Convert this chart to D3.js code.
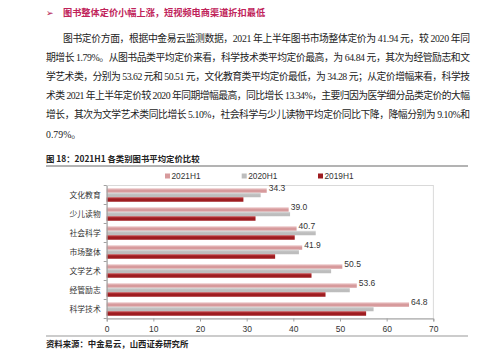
<!DOCTYPE html>
<html><head><meta charset="utf-8">
<script src="https://cdn.jsdelivr.net/npm/d3@7"></script>
<style>
html,body{margin:0;padding:0;background:#fff;}
svg{display:block;}
</style></head>
<body>
<svg id="c" width="500" height="356"></svg>
<script>
const heading = "图书整体定价小幅上涨，短视频电商渠道折扣最低";
const paragraph = [
  "图书定价方面，根据中金易云监测数据，2021 年上半年图书市场整体定价为 41.94 元，较 2020 年同",
  "期增长 1.79%。从图书品类平均定价来看，科学技术类平均定价最高，为 64.84 元，其次为经管励志和文",
  "学艺术类，分别为 53.62 元和 50.51 元，文化教育类平均定价最低，为 34.28 元；从定价增幅来看,科学技",
  "术类 2021 年上半年定价较 2020 年同期增幅最高，同比增长 13.34%，主要归因为医学细分品类定价的大幅",
  "增长，其次为文学艺术类同比增长 5.10%，社会科学与少儿读物平均定价同比下降，降幅分别为 9.10%和",
  "0.79%。"
];
paragraph[2] = "学艺术类，分别为 53.62 元和 50.51 元，文化教育类平均定价最低，为 34.28 元；从定价增幅来看，科学技";
const caption = "图 18：2021H1 各类别图书平均定价比较";
const source = "资料来源：中金易云，山西证券研究所";

const categories = ["文化教育","少儿读物","社会科学","市场整体","文学艺术","经管励志","科学技术"];
const seriesNames = ["2021H1","2020H1","2019H1"];
const values2021 = [34.3, 39.0, 40.7, 41.9, 50.5, 53.6, 64.8];
const values2020 = [33.0, 39.3, 44.8, 41.2, 48.1, 52.1, 57.2];
const values2019 = [29.3, 31.9, 40.3, 36.1, 43.9, 46.9, 55.6];
const xTicks = [0,10,20,30,40,50,60,70];

const svg = d3.select("#c");
const serif = "'Liberation Serif','Noto Sans CJK SC',serif";
const sans = "'Liberation Sans','Noto Sans CJK SC',sans-serif";

// heading
svg.append("text").attr("x",46).attr("y",16).attr("font-size",9).attr("fill","#b3124f")
  .attr("font-family","'DejaVu Sans',sans-serif").text("➢");
svg.append("text").attr("x",63).attr("y",16).attr("font-size",9.2).attr("font-weight","bold")
  .attr("fill","#c0235a").attr("font-family","'Noto Sans CJK SC',sans-serif").text(heading);

// paragraph
const lineY = [41.5, 60.8, 80, 99.2, 118.4, 137.6];
paragraph.forEach((t,i)=>{
  const x = i===0 ? 63 : 46;
  const tx = svg.append("text").attr("x",x).attr("y",lineY[i]).attr("font-size",9.8)
    .attr("fill","#222").attr("font-family",serif).text(t);
  if(i<5){ tx.attr("textLength",470-x).attr("lengthAdjust","spacing"); }
});

// caption
svg.append("text").attr("x",46).attr("y",162).attr("font-size",8.4).attr("font-weight","bold")
  .attr("fill","#222").attr("font-family","'Noto Sans CJK SC',sans-serif").text(caption);
svg.append("line").attr("x1",46).attr("x2",468).attr("y1",166).attr("y2",166)
  .attr("stroke","#9a9a9a").attr("stroke-width",1.5);

// chart
const colors = ["#d79a9c","#bdbdbd","#9e1c20"];
const light = ["#efcfd0","#dedede","#c0464a"];
const defs = svg.append("defs");
colors.forEach((c,i)=>{
  const g = defs.append("linearGradient").attr("id","g"+i).attr("x1",0).attr("x2",0).attr("y1",0).attr("y2",1);
  g.append("stop").attr("offset","0%").attr("stop-color",light[i]);
  g.append("stop").attr("offset","45%").attr("stop-color",c);
  g.append("stop").attr("offset","100%").attr("stop-color",c);
});

const x = d3.scaleLinear().domain([0,70]).range([106.7,433.3]);
const y = d3.scaleBand().domain(categories).range([185.5,318.5]).paddingInner(0.29).paddingOuter(0.145);
const ys = d3.scaleBand().domain(seriesNames).range([0,y.bandwidth()]);

// plot border
svg.append("rect").attr("x",x(0)).attr("y",185.5).attr("width",x(70)-x(0)).attr("height",133)
  .attr("fill","none").attr("stroke","#d0d0d0").attr("stroke-width",0.8);

const allVals = [values2021, values2020, values2019];
const rows = [];
categories.forEach((c,ci)=>{ seriesNames.forEach((s,si)=>{ rows.push({c, s, si, v: allVals[si][ci]}); }); });

svg.append("g").selectAll("rect").data(rows).join("rect")
  .attr("x",x(0)).attr("y",d=>y(d.c)+ys(d.s))
  .attr("width",d=>x(d.v)-x(0)).attr("height",ys.bandwidth())
  .attr("fill",d=>`url(#g${d.si})`);

// data labels 2021
svg.append("g").selectAll("text").data(categories).join("text")
  .attr("x",(d,i)=>x(values2021[i])+2).attr("y",d=>y(d)+ys("2021H1")+ys.bandwidth()/2)
  .attr("dy","0.1em").attr("font-size",8.5).attr("fill","#333").attr("font-family",sans)
  .text((d,i)=>values2021[i].toFixed(1));

// x axis
const xa = svg.append("g").attr("transform","translate(0,318.5)")
  .call(d3.axisBottom(x).tickValues(xTicks).tickSize(3).tickPadding(4).tickFormat(d3.format("d")));
xa.select(".domain").attr("stroke","#a0a0a0");
xa.selectAll(".tick line").attr("stroke","#a0a0a0");
xa.selectAll("text").attr("font-size",8.5).attr("fill","#333").attr("font-family",sans);

// y axis
const ya = svg.append("g").attr("transform",`translate(${x(0)},0)`)
  .call(d3.axisLeft(y).tickSize(0).tickPadding(6));
ya.select(".domain").attr("stroke","#a0a0a0");
ya.selectAll("text").attr("font-size",7.8).attr("fill","#333").attr("font-family",serif);
// category boundary ticks
const bounds = categories.map(c=>y(c)-y.step()*y.paddingInner()/2).concat([318.5]);
svg.append("g").selectAll("line").data(bounds).join("line")
  .attr("x1",x(0)-3).attr("x2",x(0)).attr("y1",d=>d).attr("y2",d=>d).attr("stroke","#a0a0a0");

// legend
const legX = [165, 241.7, 318];
const lg = svg.append("g").selectAll("g").data(seriesNames).join("g")
  .attr("transform",(d,i)=>`translate(${legX[i]},176.5)`);
lg.append("rect").attr("x",0).attr("y",-3).attr("width",5).attr("height",5).attr("fill",(d,i)=>colors[i]);
lg.append("text").attr("x",6.5).attr("y",0).attr("dy","0.35em").attr("font-size",8.3)
  .attr("fill","#333").attr("font-family",sans).text(d=>d);

// source
svg.append("line").attr("x1",46).attr("x2",468).attr("y1",336).attr("y2",336)
  .attr("stroke","#9a9a9a").attr("stroke-width",1.2);
svg.append("text").attr("x",46).attr("y",346.5).attr("font-size",8.4).attr("font-weight","bold")
  .attr("fill","#222").attr("font-family","'Noto Sans CJK SC',sans-serif").text(source);
</script>
</body></html>
